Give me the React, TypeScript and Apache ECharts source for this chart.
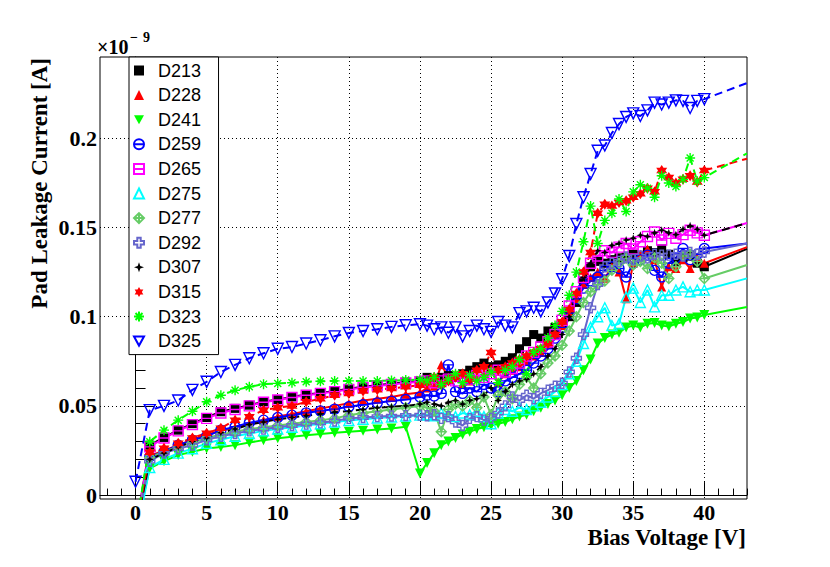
import React, { useEffect, useRef } from "react";
import * as echarts from "echarts";

const volts = [0, 1, 2, 3, 4, 5, 6, 7, 8, 9, 10, 11, 12, 13, 14, 15, 16, 17, 18, 19, 20,
  20.5, 21, 21.5, 22, 22.5, 23, 23.5, 24, 24.5, 25, 25.5, 26, 26.5, 27, 27.5, 28, 28.5, 29, 29.5, 30,
  30.5, 31, 31.5, 32, 32.5, 33, 33.5, 34, 34.5, 35, 35.5, 36, 36.5, 37, 37.5, 38, 38.5, 39, 39.5, 40];

const names = ["D213", "D228", "D241", "D259", "D265", "D275", "D277", "D292", "D307", "D315", "D323", "D325"];

const d213 = [-0.02, 0.028, 0.0323, 0.0364, 0.04, 0.0435, 0.0467, 0.0486, 0.0504, 0.0523, 0.0536, 0.055, 0.0564, 0.0573, 0.0584, 0.0596, 0.0607, 0.0616, 0.0626, 0.0633, 0.064,
  0.066, 0.065, 0.066, 0.067, 0.066, 0.068, 0.07, 0.072, 0.074, 0.072, 0.073, 0.075, 0.077, 0.082, 0.086, 0.09, 0.088, 0.092, 0.094, 0.096,
  0.1, 0.108, 0.12, 0.128, 0.131, 0.13, 0.132, 0.133, 0.1335, 0.135, 0.134, 0.137, 0.136, 0.138, 0.135, 0.131, 0.133, 0.134, 0.13, 0.128];
const d228 = [-0.02, 0.022, 0.025, 0.028, 0.031, 0.034, 0.036, 0.038, 0.04, 0.042, 0.044, 0.0455, 0.047, 0.0485, 0.05, 0.0515, 0.053, 0.054, 0.055, 0.0565, 0.0575,
  0.06, 0.061, 0.073, 0.066, 0.068, 0.062, 0.064, 0.066, 0.068, 0.071, 0.063, 0.068, 0.07, 0.072, 0.075, 0.078, 0.08, 0.085, 0.09, 0.095,
  0.102, 0.11, 0.118, 0.122, 0.125, 0.1215, 0.128, 0.125, 0.11, 0.13, 0.135, 0.138, 0.132, 0.1167, 0.128, 0.127, 0.132, 0.127, 0.133, 0.13];
const d241 = [-0.02, 0.015, 0.019, 0.0224, 0.0243, 0.0261, 0.027, 0.028, 0.0295, 0.0308, 0.0318, 0.0327, 0.0336, 0.0342, 0.0349, 0.0355, 0.036, 0.0367, 0.0373, 0.0383, 0.0121,
  0.018, 0.0235, 0.028, 0.03, 0.032, 0.034, 0.0355, 0.037, 0.038, 0.039, 0.04, 0.041, 0.0425, 0.044, 0.045, 0.047, 0.049, 0.051, 0.053, 0.056,
  0.06, 0.064, 0.07, 0.076, 0.085, 0.088, 0.09, 0.091, 0.094, 0.095, 0.094, 0.096, 0.0965, 0.095, 0.0945, 0.096, 0.097, 0.099, 0.0995, 0.101];
const d259 = [-0.02, 0.0215, 0.0243, 0.028, 0.0308, 0.033, 0.0364, 0.0383, 0.0405, 0.042, 0.0435, 0.0448, 0.0461, 0.0472, 0.0482, 0.0495, 0.0506, 0.0517, 0.0527, 0.0536, 0.055,
  0.056, 0.0555, 0.057, 0.073, 0.058, 0.057, 0.06, 0.058, 0.062, 0.06, 0.058, 0.064, 0.066, 0.068, 0.07, 0.074, 0.078, 0.082, 0.088, 0.094,
  0.102, 0.11, 0.116, 0.12, 0.1223, 0.126, 0.128, 0.127, 0.1223, 0.13, 0.132, 0.1345, 0.126, 0.1223, 0.13, 0.133, 0.1382, 0.132, 0.135, 0.1382];
const d265 = [-0.02, 0.027, 0.032, 0.036, 0.0395, 0.043, 0.046, 0.048, 0.05, 0.052, 0.0533, 0.0547, 0.056, 0.057, 0.058, 0.0592, 0.0603, 0.0612, 0.062, 0.0628, 0.0635,
  0.064, 0.063, 0.064, 0.065, 0.064, 0.066, 0.065, 0.067, 0.066, 0.068, 0.07, 0.069, 0.071, 0.074, 0.078, 0.08, 0.083, 0.086, 0.09, 0.098,
  0.106, 0.114, 0.122, 0.13, 0.134, 0.137, 0.136, 0.139, 0.141, 0.138, 0.142, 0.145, 0.1475, 0.143, 0.1467, 0.144, 0.146, 0.1485, 0.147, 0.1457];
const d275 = [-0.025, 0.0155, 0.02, 0.0235, 0.026, 0.029, 0.031, 0.033, 0.0345, 0.036, 0.037, 0.038, 0.039, 0.04, 0.041, 0.0418, 0.0425, 0.0432, 0.0438, 0.0443, 0.0448,
  0.045, 0.0445, 0.046, 0.045, 0.044, 0.046, 0.045, 0.047, 0.044, 0.04, 0.046, 0.048, 0.047, 0.049, 0.048, 0.05, 0.052, 0.055, 0.058, 0.062,
  0.068, 0.075, 0.085, 0.094, 0.1, 0.105, 0.095, 0.096, 0.111, 0.116, 0.108, 0.115, 0.1055, 0.112, 0.112, 0.115, 0.1167, 0.114, 0.115, 0.115];
const d277 = [-0.02, 0.021, 0.0245, 0.027, 0.0295, 0.032, 0.034, 0.0355, 0.037, 0.038, 0.039, 0.04, 0.041, 0.042, 0.043, 0.0448, 0.046, 0.047, 0.048, 0.049, 0.05,
  0.049, 0.047, 0.0355, 0.048, 0.051, 0.05, 0.053, 0.049, 0.055, 0.045, 0.056, 0.058, 0.054, 0.062, 0.066, 0.06, 0.068, 0.074, 0.078, 0.084,
  0.092, 0.1, 0.108, 0.114, 0.118, 0.12, 0.126, 0.13, 0.1327, 0.129, 0.131, 0.127, 0.133, 0.13, 0.1214, 0.128, 0.134, 0.135, 0.131, 0.1214];
const d292 = [-0.02, 0.019, 0.0235, 0.026, 0.028, 0.031, 0.033, 0.0345, 0.036, 0.037, 0.038, 0.039, 0.0398, 0.0405, 0.0415, 0.043, 0.0435, 0.044, 0.0443, 0.0446, 0.0448,
  0.0445, 0.045, 0.043, 0.044, 0.041, 0.039, 0.043, 0.044, 0.042, 0.043, 0.046, 0.05, 0.055, 0.053, 0.056, 0.054, 0.057, 0.0588, 0.061, 0.0627,
  0.069, 0.0767, 0.09, 0.105, 0.118, 0.128, 0.13, 0.131, 0.1335, 0.132, 0.134, 0.133, 0.135, 0.1345, 0.1345, 0.135, 0.134, 0.136, 0.135, 0.1363];
const d307 = [-0.02, 0.02, 0.0235, 0.027, 0.03, 0.032, 0.035, 0.037, 0.0395, 0.041, 0.0425, 0.0435, 0.0445, 0.0455, 0.0465, 0.047, 0.048, 0.049, 0.0495, 0.05, 0.051,
  0.052, 0.051, 0.05, 0.052, 0.053, 0.051, 0.053, 0.054, 0.056, 0.06, 0.053, 0.058, 0.062, 0.064, 0.065, 0.068, 0.072, 0.078, 0.082, 0.09,
  0.1, 0.112, 0.122, 0.13, 0.137, 0.136, 0.14, 0.141, 0.143, 0.144, 0.1457, 0.145, 0.147, 0.1485, 0.147, 0.146, 0.149, 0.151, 0.149, 0.1457];
const d315 = [-0.02, 0.024, 0.0263, 0.029, 0.032, 0.0347, 0.0375, 0.042, 0.0439, 0.0476, 0.049, 0.05, 0.0523, 0.054, 0.056, 0.057, 0.0583, 0.059, 0.0598, 0.0607, 0.0616,
  0.063, 0.066, 0.062, 0.064, 0.066, 0.068, 0.065, 0.07, 0.072, 0.08, 0.07, 0.072, 0.074, 0.076, 0.078, 0.08, 0.082, 0.085, 0.09, 0.097,
  0.104, 0.113, 0.125, 0.136, 0.158, 0.163, 0.162, 0.164, 0.165, 0.167, 0.169, 0.172, 0.17, 0.182, 0.178, 0.175, 0.177, 0.179, 0.1755, 0.182];
const d323 = [-0.02, 0.0299, 0.0364, 0.042, 0.047, 0.0523, 0.056, 0.0588, 0.0607, 0.0622, 0.0626, 0.063, 0.0635, 0.0638, 0.064, 0.064, 0.064, 0.064, 0.0642, 0.0645, 0.0648,
  0.064, 0.066, 0.062, 0.065, 0.068, 0.063, 0.067, 0.064, 0.066, 0.069, 0.063, 0.07, 0.072, 0.076, 0.068, 0.08, 0.082, 0.088, 0.095, 0.103,
  0.112, 0.125, 0.142, 0.162, 0.141, 0.154, 0.158, 0.166, 0.159, 0.17, 0.174, 0.172, 0.167, 0.179, 0.175, 0.173, 0.177, 0.189, 0.176, 0.178];
const d325 = [0.0075, 0.0476, 0.05, 0.053, 0.059, 0.0635, 0.069, 0.073, 0.0767, 0.0795, 0.082, 0.083, 0.085, 0.0868, 0.089, 0.0909, 0.092, 0.093, 0.0943, 0.0952, 0.0958,
  0.095, 0.093, 0.094, 0.091, 0.094, 0.089, 0.092, 0.095, 0.093, 0.0915, 0.097, 0.095, 0.094, 0.102, 0.103, 0.105, 0.103, 0.108, 0.113, 0.121,
  0.134, 0.152, 0.167, 0.18, 0.193, 0.196, 0.203, 0.208, 0.212, 0.214, 0.2125, 0.2157, 0.22, 0.219, 0.22, 0.2213, 0.221, 0.217, 0.221, 0.222];

// extrapolated curve end at 43 V
const extVolt = 43;
const ext43 = [0.138, 0.139, 0.1055, 0.141, 0.1525, 0.1215, 0.129, 0.141, 0.1525, 0.1886, 0.1916, 0.231];

const xMajorTicks = [0, 5, 10, 15, 20, 25, 30, 35, 40];
const xMinorTicks = [-2, -1, 0, 1, 2, 3, 4, 5, 6, 7, 8, 9, 10, 11, 12, 13, 14, 15, 16, 17, 18, 19, 20, 21, 22,
  23, 24, 25, 26, 27, 28, 29, 30, 31, 32, 33, 34, 35, 36, 37, 38, 39, 40, 41, 42, 43];
const yMajorTicks = [0, 0.05, 0.1, 0.15, 0.2];
const yMinorTicks = [0, 0.01, 0.02, 0.03, 0.04, 0.05, 0.06, 0.07, 0.08, 0.09, 0.1, 0.11, 0.12, 0.13, 0.14,
  0.15, 0.16, 0.17, 0.18, 0.19, 0.2, 0.21, 0.22, 0.23, 0.24];

const TRI_DOWN = "path://M0,0L10,0L5,9Z";
const CIRCLE_BAR = "path://M0,5A5,5,0,1,1,10,5A5,5,0,1,1,0,5ZM0,5L10,5";
const SQUARE_BAR = "path://M0,0L10,0L10,10L0,10ZM0,5L10,5";
const DIAMOND_CROSS = "path://M5,0L10,5L5,10L0,5ZM5,0L5,10M0,5L10,5";
const OPEN_CROSS = "path://M3.3,0L6.7,0L6.7,3.3L10,3.3L10,6.7L6.7,6.7L6.7,10L3.3,10L3.3,6.7L0,6.7L0,3.3L3.3,3.3Z";
const STAR4 = "path://M5,0L6.3,3.7L10,5L6.3,6.3L5,10L3.7,6.3L0,5L3.7,3.7Z";
const STAR6 = "path://M5,0L6.44,2.5L9.33,2.5L7.89,5L9.33,7.5L6.44,7.5L5,10L3.56,7.5L0.67,7.5L2.11,5L0.67,2.5L3.56,2.5Z";
const ASTERISK = "path://M0,5L10,5M5,0L5,10M1.5,1.5L8.5,8.5M8.5,1.5L1.5,8.5";

const seriesStyles = [
  { color: "#000000", symbol: "rect", size: 9, open: false, dash: false },
  { color: "#ff0000", symbol: "triangle", size: 9, open: false, dash: false },
  { color: "#00ff00", symbol: TRI_DOWN, size: 10, open: false, dash: false },
  { color: "#0000ff", symbol: CIRCLE_BAR, size: 10, open: true, dash: false },
  { color: "#ff00ff", symbol: SQUARE_BAR, size: 10, open: true, dash: false },
  { color: "#00ffff", symbol: "triangle", size: 10, open: true, dash: false },
  { color: "#66cc66", symbol: DIAMOND_CROSS, size: 10, open: true, dash: false },
  { color: "#6666cc", symbol: OPEN_CROSS, size: 10, open: true, dash: false },
  { color: "#000000", symbol: STAR4, size: 8, open: false, dash: true },
  { color: "#ff0000", symbol: STAR6, size: 11, open: false, dash: true },
  { color: "#00ff00", symbol: ASTERISK, size: 10, open: true, dash: true },
  { color: "#0000ff", symbol: TRI_DOWN, size: 11, open: true, dash: true },
];

const seriesValues = [d213, d228, d241, d259, d265, d275, d277, d292, d307, d315, d323, d325];

const SERIF = '"Liberation Serif", "Times New Roman", serif';

export default function App() {
  const ref = useRef<HTMLDivElement>(null);
  useEffect(() => {
    if (!ref.current) return;
    const chart = echarts.init(ref.current, null, { renderer: "svg" });
    const series = names.map((name, i) => {
      const st = seriesStyles[i];
      const vals = seriesValues[i];
      const data: any[] = volts.map((v, j) => [v, vals[j]]);
      data.push({ value: [extVolt, ext43[i]], symbol: "none" });
      return {
        name,
        type: "line",
        xAxisIndex: 0,
        yAxisIndex: 0,
        data,
        symbol: st.symbol,
        symbolSize: st.size,
        showAllSymbol: true,
        clip: true,
        itemStyle: {
          color: st.open ? "rgba(255,255,255,0)" : st.color,
          borderColor: st.color,
          borderWidth: st.open ? 1.4 : 0,
        },
        lineStyle: { color: st.color, width: 2, type: st.dash ? [8, 5] : "solid" },
        emphasis: { disabled: true },
        z: 2,
      };
    });
    const option: any = {
      animation: false,
      grid: { left: 100, top: 57, right: 83, bottom: 68, show: true, borderColor: "#000", borderWidth: 1, backgroundColor: "rgba(0,0,0,0)" },
      xAxis: [
        {
          type: "value", min: -2.5, max: 43, position: "bottom",
          axisLine: { show: true, lineStyle: { color: "#000", width: 1 } },
          axisTick: { show: true, inside: true, length: 13, customValues: xMajorTicks, lineStyle: { color: "#000" } },
          axisLabel: { customValues: xMajorTicks, fontFamily: SERIF, fontWeight: "bold", fontSize: 22, color: "#000", margin: 2 },
          splitLine: { show: true, lineStyle: { color: "#000", type: [1, 3], width: 1 } },
        },
        {
          type: "value", min: -2.5, max: 43, position: "bottom",
          axisLine: { show: false },
          axisTick: { show: true, inside: true, length: 6.5, customValues: xMinorTicks, lineStyle: { color: "#000" } },
          axisLabel: { show: false },
          splitLine: { show: false },
        },
      ],
      yAxis: [
        {
          type: "value", min: -0.0022, max: 0.2456, position: "left",
          axisLine: { show: true, lineStyle: { color: "#000", width: 1 } },
          axisTick: { show: true, inside: true, length: 19, customValues: yMajorTicks, lineStyle: { color: "#000" } },
          axisLabel: { customValues: yMajorTicks, fontFamily: SERIF, fontWeight: "bold", fontSize: 22, color: "#000", margin: 3 },
          splitLine: { show: true, lineStyle: { color: "#000", type: [1, 3], width: 1 } },
        },
        {
          type: "value", min: -0.0022, max: 0.2456, position: "left",
          axisLine: { show: false },
          axisTick: { show: true, inside: true, length: 10, customValues: yMinorTicks, lineStyle: { color: "#000" } },
          axisLabel: { show: false },
          splitLine: { show: false },
        },
      ],
      legend: {
        orient: "vertical",
        left: 129,
        top: 57,
        padding: [4.5, 17.5, 4.5, 4],
        backgroundColor: "#fff",
        borderColor: "#000",
        borderWidth: 1,
        borderRadius: 0,
        itemWidth: 10,
        itemHeight: 10,
        itemGap: 6.6,
        z: 10,
        selectedMode: false,
        textStyle: { fontFamily: '"Liberation Sans", Arial, sans-serif', fontSize: 18, color: "#000", padding: [0, 0, 0, 9] },
        data: names.map((n, i) => ({ name: n, icon: seriesStyles[i].symbol })),
      },
      graphic: [
        { type: "text", z: 6, x: 97, y: 47, style: { text: "×10", font: `bold 20px ${SERIF}`, fill: "#000", verticalAlign: "middle", align: "left" } },
        { type: "text", z: 6, x: 130, y: 37, style: { text: "−", font: `bold 14px ${SERIF}`, fill: "#000", verticalAlign: "middle", align: "left" } },
        { type: "text", z: 6, x: 143, y: 37.5, style: { text: "9", font: `bold 14px ${SERIF}`, fill: "#000", verticalAlign: "middle", align: "left" } },
        { type: "text", z: 6, x: 746, y: 537, style: { text: "Bias Voltage [V]", font: `bold 23px ${SERIF}`, fill: "#000", verticalAlign: "middle", align: "right" } },
        { type: "text", z: 6, x: 39, y: 58, rotation: Math.PI / 2, style: { text: "Pad Leakage Current [A]", font: `bold 23px ${SERIF}`, fill: "#000", verticalAlign: "middle", align: "right" } },
      ],
      series,
    };
    chart.setOption(option);
    return () => chart.dispose();
  }, []);
  return <div ref={ref} style={{ position: "absolute", left: 0, top: 0, width: 830, height: 567, background: "#fff" }} />;
}
